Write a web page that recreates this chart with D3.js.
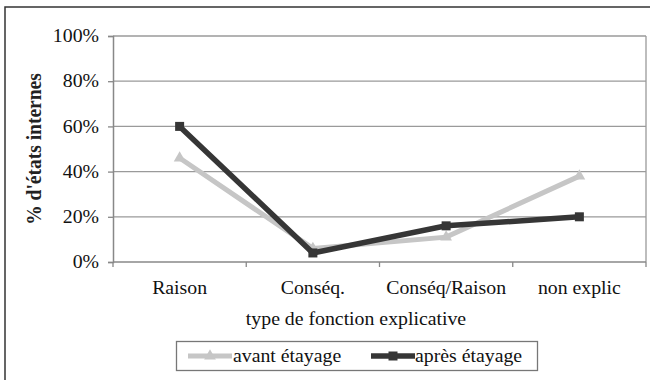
<!DOCTYPE html>
<html>
<head>
<meta charset="utf-8">
<script src="https://cdn.jsdelivr.net/npm/d3@7"></script>
<style>
  html, body { margin: 0; padding: 0; background: #fff; }
  svg { display: block; }
</style>
</head>
<body>
<svg id="chart" width="650" height="380"></svg>
<script>
// Categories of explanatory function
const categories = ["Raison", "Conséq.", "Conséq/Raison", "non explic"];
// Share of internal states (%) before and after scaffolding
const avantEtayage = [46, 6, 11, 38];
const apresEtayage = [60, 4, 16, 20];
const yTicks = [0, 20, 40, 60, 80, 100];

const seriesList = [
  { name: "avant étayage", values: avantEtayage, color: "#c6c6c6", marker: "triangle", width: 5 },
  { name: "après étayage", values: apresEtayage, color: "#363636", marker: "square", width: 5.5 }
];

const FONT = "Liberation Serif";
const FS = 18;      // font size
const SX = 1.1;     // slightly widened glyphs

const svg = d3.select("#chart");
const margin = { left: 113, right: 4, top: 36, bottom: 118 };
const W = 650, H = 380;
const x0 = margin.left, x1 = W - margin.right;
const y0 = H - margin.bottom, y1 = margin.top;

// text placed at (x, y) with the horizontal stretch
function label(parent, xp, yp, str, anchor, opts = {}) {
  return parent.append("text")
    .attr("transform", `translate(${xp},${yp}) scale(${SX},1)`)
    .attr("text-anchor", anchor)
    .attr("font-family", FONT)
    .attr("font-size", opts.size || FS)
    .attr("font-weight", opts.weight || "normal")
    .attr("fill", opts.fill || "#111")
    .text(str);
}

// outer chart frame
svg.append("rect")
  .attr("x", 5).attr("y", 7).attr("width", 660).attr("height", 400)
  .attr("fill", "none").attr("stroke", "#333").attr("stroke-width", 1.5);

const x = d3.scaleBand().domain(categories).range([x0, x1]);
const y = d3.scaleLinear().domain([0, 100]).range([y0, y1]);

// horizontal gridlines
svg.append("g").selectAll("line").data(yTicks.filter(d => d > 0)).join("line")
  .attr("x1", x0).attr("x2", x1)
  .attr("y1", d => y(d)).attr("y2", d => y(d))
  .attr("stroke", "#9a9a9a").attr("stroke-width", 1.3);

// right border of plot area
svg.append("line")
  .attr("x1", x1).attr("x2", x1).attr("y1", y1).attr("y2", y0)
  .attr("stroke", "#9a9a9a").attr("stroke-width", 1.3);

// y axis
const yAxis = d3.axisLeft(y).tickValues(yTicks).tickFormat(d => d + "%")
  .tickSize(5).tickPadding(9);
const gy = svg.append("g").attr("transform", `translate(${x0},0)`).call(yAxis);
gy.attr("font-family", FONT);
gy.select(".domain").attr("stroke", "#888").attr("stroke-width", 1.5);
gy.selectAll(".tick line").attr("stroke", "#888").attr("stroke-width", 1.3);
gy.selectAll(".tick text")
  .attr("font-size", FS).attr("font-family", FONT).attr("fill", "#111")
  .attr("x", -14 / SX).attr("transform", `scale(${SX},1)`);

// x axis: ticks at category boundaries
const gx = svg.append("g").attr("transform", `translate(0,${y0})`);
gx.append("line").attr("x1", x0).attr("x2", x1).attr("y1", 0).attr("y2", 0)
  .attr("stroke", "#888").attr("stroke-width", 1.5);
const bounds = categories.map(c => x(c)).concat([x1]);
gx.selectAll("line.tk").data(bounds).join("line").attr("class", "tk")
  .attr("x1", d => d).attr("x2", d => d).attr("y1", 0).attr("y2", 5)
  .attr("stroke", "#888").attr("stroke-width", 1.3);
categories.forEach(c => label(gx, x(c) + x.bandwidth() / 2, 32, c, "middle"));

// axis titles
svg.append("text")
  .attr("transform", `translate(41,${(y0 + y1) / 2}) rotate(-90) scale(1,${SX})`)
  .attr("text-anchor", "middle").attr("font-size", 19.5).attr("font-weight", "bold")
  .attr("font-family", FONT).attr("fill", "#222")
  .text("% d'états internes");
label(svg, 356, 325, "type de fonction explicative", "middle");

// series
const line = d3.line()
  .x((d, i) => x(categories[i]) + x.bandwidth() / 2)
  .y(d => y(d));

function drawMarker(g, type, cx, cy, color) {
  if (type === "square") {
    g.append("rect").attr("x", cx - 4.5).attr("y", cy - 4.5).attr("width", 9).attr("height", 9)
      .attr("fill", color);
  } else {
    const sym = d3.symbol().type(d3.symbolTriangle).size(60);
    g.append("path").attr("d", sym()).attr("transform", `translate(${cx},${cy})`)
      .attr("fill", color);
  }
}

seriesList.forEach(s => {
  const g = svg.append("g");
  g.append("path").datum(s.values).attr("d", line)
    .attr("fill", "none").attr("stroke", s.color).attr("stroke-width", s.width)
    .attr("stroke-linejoin", "miter");
  s.values.forEach((v, i) => drawMarker(g, s.marker, x(categories[i]) + x.bandwidth() / 2, y(v), s.color));
});

// legend
const lg = svg.append("g");
lg.append("rect").attr("x", 176.5).attr("y", 341.5).attr("width", 361).attr("height", 29)
  .attr("fill", "#fff").attr("stroke", "#777").attr("stroke-width", 1.3);
const legendItems = [
  { s: seriesList[0], lx: 188, tx: 233 },
  { s: seriesList[1], lx: 371, tx: 415 }
];
legendItems.forEach(({ s, lx, tx }) => {
  lg.append("line").attr("x1", lx).attr("x2", lx + 44).attr("y1", 356).attr("y2", 356)
    .attr("stroke", s.color).attr("stroke-width", s.width);
  drawMarker(lg, s.marker, lx + 22, 356, s.color);
  label(lg, tx, 362, s.name, "start");
});
</script>
</body>
</html>
